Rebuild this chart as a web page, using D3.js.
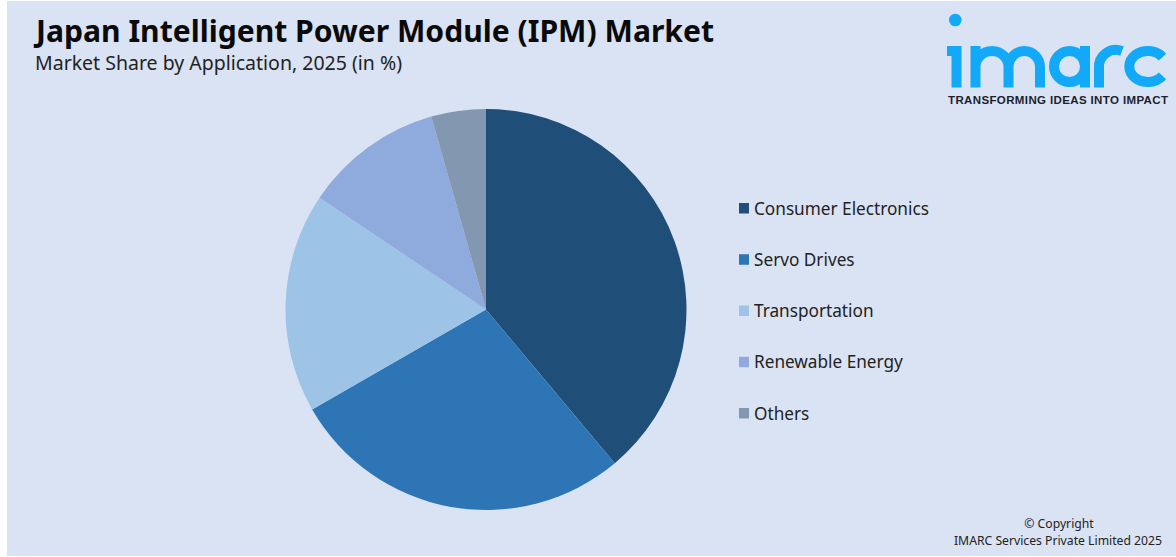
<!DOCTYPE html>
<html>
<head>
<meta charset="utf-8">
<script src="https://cdn.jsdelivr.net/npm/d3@7"></script>
<style>
  html, body { margin: 0; padding: 0; background: #fff; overflow: hidden; }
  svg { display: block; }
  text { font-family: "Noto Sans", sans-serif; }
</style>
</head>
<body>
<div id="chart"></div>
<script>
var categories = ["Consumer Electronics", "Servo Drives", "Transportation", "Renewable Energy", "Others"];
var shares = [38.9, 27.8, 17.7, 11.2, 4.4];
var colors = ["#1F4E79", "#2E75B6", "#9DC3E6", "#8FAADC", "#8497B0"];

var width = 1176, height = 557;
var svg = d3.select("#chart").append("svg")
    .attr("width", width)
    .attr("height", height);

// background panel, leaves a thin white strip on the left
svg.append("rect")
    .attr("x", 7).attr("y", 1)
    .attr("width", width - 7).attr("height", height - 2)
    .attr("fill", "#DAE3F3");

// titles
svg.append("text")
    .attr("x", 36).attr("y", 42)
    .attr("font-size", 30.1).attr("font-weight", 700)
    .attr("fill", "#0a0a0a")
    .text("Japan Intelligent Power Module (IPM) Market");
svg.append("text")
    .attr("x", 35).attr("y", 70)
    .attr("font-size", 19.5)
    .attr("fill", "#222")
    .text("Market Share by Application, 2025 (in %)");

/* pie */
var pie = d3.pie().sort(null).value(d => d);
var arc = d3.arc().innerRadius(0).outerRadius(200.5);
var pieG = svg.append("g").attr("transform", "translate(486,309.5)");
pieG.selectAll("path")
    .data(pie(shares))
    .join("path")
    .attr("d", arc)
    .attr("fill", (d, i) => colors[i]);

/* legend */
var legendY = d3.scalePoint().domain(categories).range([208, 413]);
var legend = svg.append("g").selectAll("g")
    .data(categories)
    .join("g")
    .attr("transform", d => `translate(739,${legendY(d)})`);
legend.append("rect")
    .attr("x", 0).attr("y", -5)
    .attr("width", 10).attr("height", 10.5)
    .attr("fill", (d, i) => colors[i]);
legend.append("text")
    .attr("x", 15).attr("y", 6.5)
    .attr("font-size", 17.2)
    .attr("fill", "#222")
    .text(d => d);

/* logo */
var blue = "#12A9F8";
var logo = svg.append("g").attr("fill", "none").attr("stroke", blue).attr("stroke-width", 10);
svg.append("circle").attr("cx", 955.3).attr("cy", 20).attr("r", 6.3).attr("fill", blue);
logo.append("path").attr("d", "M947,51 H956.5 V87.5");
logo.append("path").attr("d", "M975.5,87.5 V46 M975.5,67 a16.5,16 0 0 1 33,0 V87.5 M1008.5,67 a15.75,16 0 0 1 31.5,0 V87.5");
logo.append("circle").attr("cx", 1069.5).attr("cy", 66.5).attr("r", 15.5);
logo.append("path").attr("d", "M1085,46 V87.5");
logo.append("path").attr("d", "M1099,87.5 V68 a17,17 0 0 1 23,-17");
logo.append("path").attr("d", "M1162.5,57.1 A18.5,15.5 0 1 0 1162.5,75.9");
svg.append("text")
    .attr("x", 948).attr("y", 104)
    .attr("font-size", 11.5).attr("font-weight", 700)
    .attr("fill", "#1a2230")
    .attr("textLength", 220)
    .style("font-family", "Liberation Sans")
    .text("TRANSFORMING IDEAS INTO IMPACT");

// footer
svg.append("text")
    .attr("x", 1059).attr("y", 528)
    .attr("text-anchor", "middle")
    .attr("font-size", 12.2).attr("fill", "#222")
    .text("© Copyright");
svg.append("text")
    .attr("x", 1058).attr("y", 545)
    .attr("text-anchor", "middle")
    .attr("font-size", 12.2).attr("fill", "#222")
    .text("IMARC Services Private Limited 2025");
</script>
</body>
</html>
